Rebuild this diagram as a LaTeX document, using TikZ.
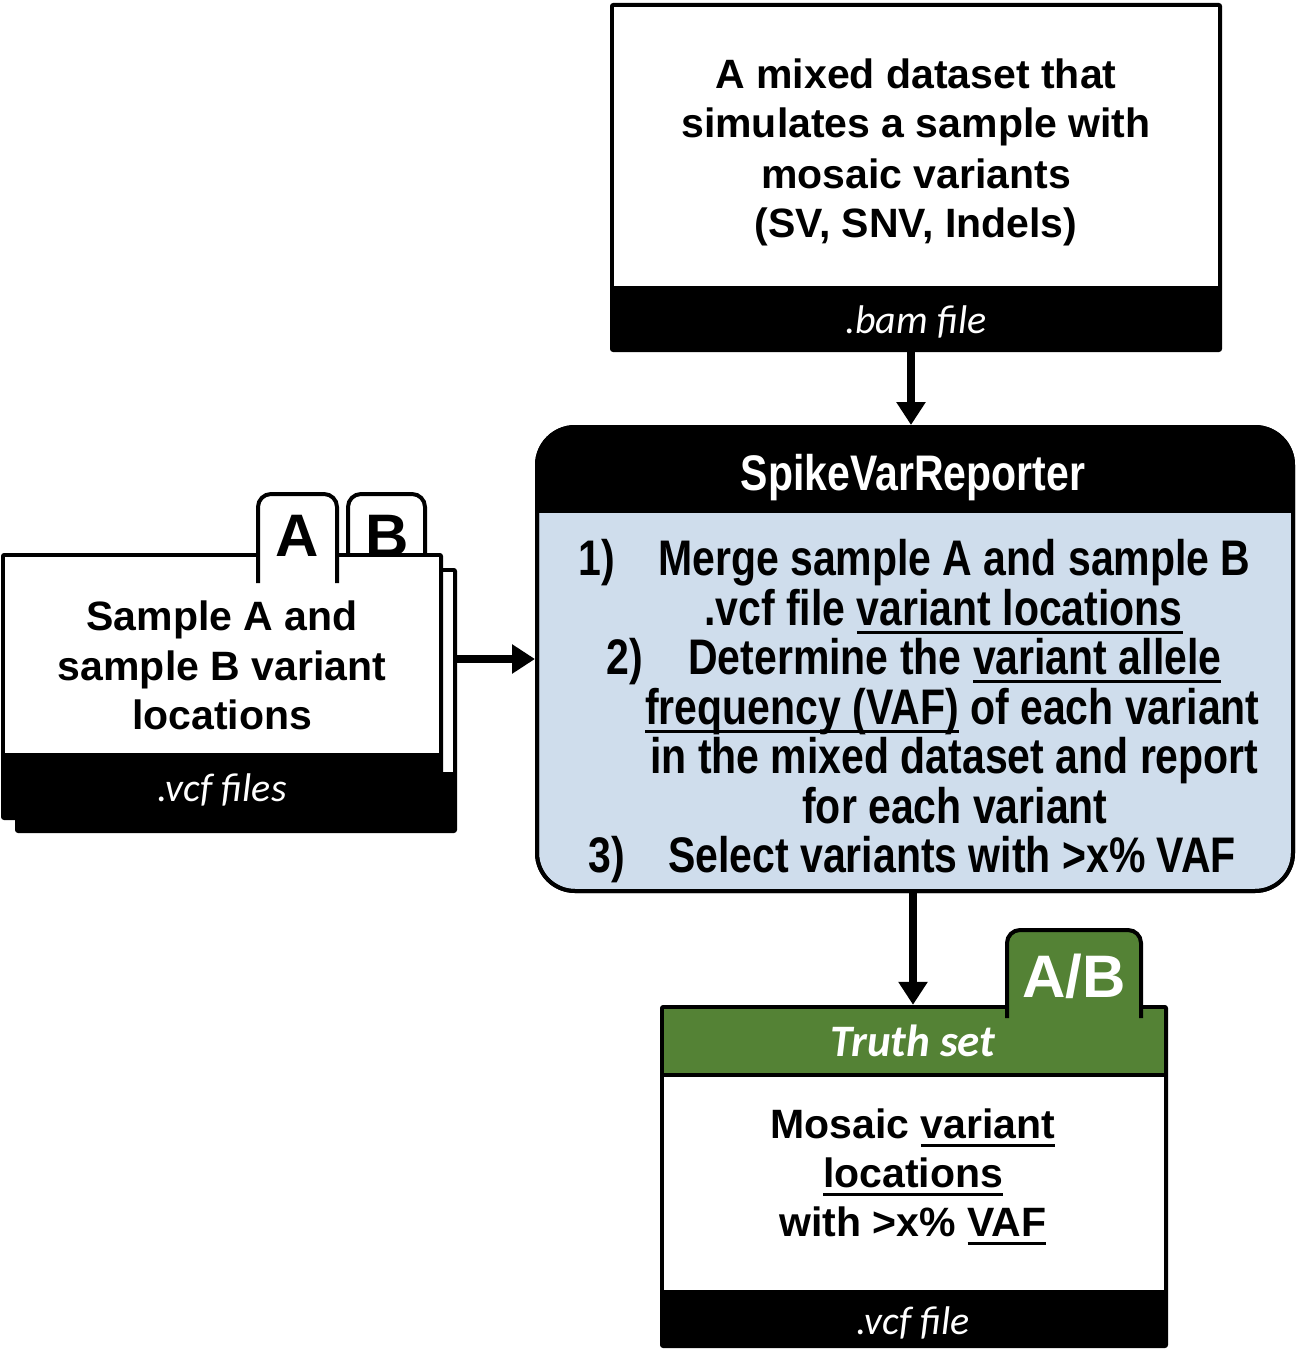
\documentclass[tikz,border=0pt]{standalone}
\usepackage{fontspec}
\setmainfont{Liberation Sans}
\newfontfamily\narrowfont[FakeStretch=0.82]{Liberation Sans}
\newfontfamily\calfont{Carlito}
\usetikzlibrary{arrows.meta}
\definecolor{boxblue}{HTML}{CFDDEC}
\definecolor{tgreen}{HTML}{548235}
\newcommand\undl[1]{\setbox0\hbox{#1}\rlap{\rule[-9pt]{\wd0}{3.5pt}}\box0\relax}
\newcommand\bigtxt{\fontsize{41}{49}\selectfont\bfseries}
\newcommand\nartxt{\narrowfont\fontsize{50}{50}\selectfont\bfseries}
\newcommand\italtxt{\calfont\fontsize{40}{48}\selectfont\itshape}
\newcommand\tabtxt{\fontsize{60}{60}\selectfont\bfseries}
\tikzset{
  txt/.style={inner sep=0pt, font=\bigtxt, anchor=base},
  ntxt/.style={inner sep=0pt, font=\nartxt, anchor=base west},
  wlabel/.style={inner sep=0pt, font=\italtxt, text=white, anchor=base},
  tabl/.style={inner sep=0pt, font=\tabtxt, anchor=base},
  blk/.style={fill=black, rounded corners=3pt, inner sep=0pt},
  tabshape/.style={draw=black, line width=4pt, rounded corners=13pt},
  arr/.style={line width=8pt, -{Triangle[width=28pt,length=23pt]}},
}
\begin{document}
\begin{tikzpicture}[x=1pt,y=-1pt]
\useasboundingbox (0,0) rectangle (1302,1370);

% ---------- top box
\node[blk, minimum width=612pt, minimum height=349pt] (topbox) at (916,177.5) {};
\fill[white] (614,7) rectangle (1218,286);
\node[txt] (t1) at (916,89) {A mixed dataset that};
\node[txt] (t2) at (916,138) {simulates a sample with};
\node[txt] (t3) at (916,188) {mosaic variants};
\node[txt] (t4) at (916,237) {(SV, SNV, Indels)};
\node[wlabel] (bam) at (916,333) {.bam file};

% ---------- SpikeVarReporter box
\node[draw=black, line width=4pt, fill=boxblue, rounded corners=38pt,
      minimum width=756pt, minimum height=464pt, inner sep=0pt] (spike) at (915,659) {};
\begin{scope}
  \clip[rounded corners=38pt] (537,427) rectangle (1293,891);
  \fill[black] (530,420) rectangle (1300,513);
\end{scope}
\draw[line width=4pt, rounded corners=38pt] (537,427) rectangle (1293,891);
\node[inner sep=0pt, font=\nartxt, text=white, anchor=base] (title) at (913,490) {SpikeVarReporter};
\node[ntxt] (n1) at (578,575) {1)};
\node[ntxt] (l1) at (658,575) {Merge sample A and sample B};
\node[ntxt] (l2) at (704,625) {.vcf file \undl{variant locations}};
\node[ntxt] (n2) at (606,674) {2)};
\node[ntxt] (l3) at (688,674) {Determine the \undl{variant allele}};
\node[ntxt] (l4) at (645,724) {\undl{frequency (VAF)} of each variant};
\node[ntxt] (l5) at (650,773) {in the mixed dataset and report};
\node[inner sep=0pt, font=\nartxt, anchor=base] (l6) at (955,823) {for each variant};
\node[ntxt] (n3) at (588,872) {3)};
\node[ntxt] (l7) at (668,872) {Select variants with >x\% VAF};

% ---------- left stacked file boxes
\node[blk, minimum width=442pt, minimum height=265pt] (back) at (236,700.5) {};
\fill[white] (19,572) rectangle (453,772);
\filldraw[fill=white, tabshape] (348,560) -- (348,494) -- (425,494) -- (425,560);
\node[tabl] (lb) at (387,556) {B};
\node[blk, minimum width=442pt, minimum height=267pt] (front) at (222,686.5) {};
\fill[white] (5,557) rectangle (439,753);
\filldraw[fill=white, tabshape] (258,583) -- (258,494) -- (337,494) -- (337,583);
\node[tabl] (la) at (297.5,556) {A};
\node[txt] (s1) at (222,630) {Sample A and};
\node[txt] (s2) at (222,680) {sample B variant};
\node[txt] (s3) at (222,729) {locations};
\node[wlabel] (vcfs) at (222,801) {.vcf files};

% ---------- truth set box
\node[blk, minimum width=508pt, minimum height=343pt] (truth) at (914,1176.5) {};
\fill[tgreen] (664,1009) rectangle (1164,1073);
\fill[white] (664,1077) rectangle (1164,1290);
\filldraw[fill=tgreen, tabshape] (1007,1018) -- (1007,930) -- (1141,930) -- (1141,1018);
\node[tabl, text=white] (lab) at (1074,997) {A/B};
\node[inner sep=0pt, font=\calfont\fontsize{45}{50}\selectfont\bfseries\itshape, text=white, anchor=base] (ts) at (913,1056) {Truth set};
\node[txt] (m1) at (913,1138) {Mosaic \undl{variant}};
\node[txt] (m2) at (913,1187) {\undl{locations}};
\node[txt] (m3) at (913,1236) {with >x\% \undl{VAF}};
\node[wlabel] (vcf) at (913,1334) {.vcf file};

% ---------- connectors
\draw[arr] ([xshift=-5pt]topbox.south) -- ([xshift=-5pt]topbox.south |- spike.north);
\draw[arr] (back.east |- spike.west) -- (spike.west);
\draw[arr] ([xshift=-2pt]spike.south) -- ([xshift=-2pt]spike.south |- truth.north);
\end{tikzpicture}
\end{document}
